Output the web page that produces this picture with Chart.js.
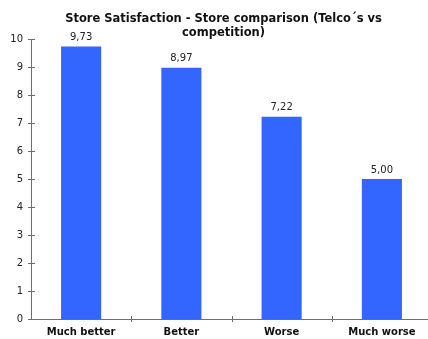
<!DOCTYPE html>
<html>
<head>
<meta charset="utf-8">
<script src="https://cdn.jsdelivr.net/npm/chart.js@4"></script>
<style>
  html, body { margin: 0; padding: 0; background: #fff; overflow: hidden; }
  .box { width: 432px; height: 339px; }
</style>
</head>
<body>
<div class="box"><canvas id="chart"></canvas></div>
<script>
const categories = ['Much better', 'Better', 'Worse', 'Much worse'];
const scores = [9.73, 8.97, 7.22, 5.00];
const yTicks = [0, 1, 2, 3, 4, 5, 6, 7, 8, 9, 10];
const titleLines = ['Store Satisfaction - Store comparison (Telco´s vs', 'competition)'];

const FONT = "'DejaVu Sans', Verdana, sans-serif";
const AXIS = '#6e6e6e';

// title, axis lines with crossing ticks, and the value over each bar
const decorations = {
    id: 'decorations',
    afterDatasetsDraw(chart) {
        const c = chart.ctx;
        const x = chart.scales.x;
        const y = chart.scales.y;
        const area = chart.chartArea;
        c.save();

        c.fillStyle = '#111';
        c.font = 'bold 11.5px ' + FONT;
        c.textAlign = 'center';
        c.textBaseline = 'alphabetic';
        titleLines.forEach((line, i) => c.fillText(line, 223.5, 21.5 + i * 14));

        c.strokeStyle = AXIS;
        c.lineWidth = 1;
        c.beginPath();
        c.moveTo(area.left + 0.5, area.top);
        c.lineTo(area.left + 0.5, area.bottom);
        c.moveTo(area.left, area.bottom + 0.5);
        c.lineTo(chart.width, area.bottom + 0.5);
        yTicks.forEach(v => {
            const py = Math.round(y.getPixelForValue(v)) + 0.5;
            c.moveTo(area.left - 3, py);
            c.lineTo(area.left + 4, py);
        });
        for (let i = 1; i < categories.length; i++) {
            const px = Math.round((x.getPixelForValue(i - 1) + x.getPixelForValue(i)) / 2) + 0.5;
            c.moveTo(px, area.bottom - 3);
            c.lineTo(px, area.bottom + 3);
        }
        c.stroke();

        c.fillStyle = '#222';
        c.font = '10px ' + FONT;
        c.textBaseline = 'bottom';
        chart.getDatasetMeta(0).data.forEach((bar, i) => {
            c.fillText(scores[i].toFixed(2).replace('.', ','), bar.x, bar.y - 4);
        });
        c.restore();
    }
};

new Chart(document.getElementById('chart'), {
    type: 'bar',
    data: {
        labels: categories,
        datasets: [{
            data: scores,
            backgroundColor: '#3366ff',
            barPercentage: 0.4,
            categoryPercentage: 1
        }]
    },
    options: {
        responsive: true,
        maintainAspectRatio: false,
        animation: false,
        layout: { padding: { left: 0, right: 0, top: 39, bottom: 0 } },
        plugins: {
            legend: { display: false },
            tooltip: { enabled: false },
            title: { display: false }
        },
        scales: {
            x: {
                afterFit: s => { s.height = 20; },
                grid: { display: false, drawTicks: false },
                border: { display: false },
                ticks: {
                    color: '#111',
                    padding: 7,
                    font: { family: FONT, size: 10, weight: 'bold' }
                }
            },
            y: {
                min: 0,
                max: 10,
                afterFit: s => { s.width = 31; },
                grid: { display: false, drawTicks: false },
                border: { display: false },
                ticks: {
                    stepSize: 1,
                    color: '#222',
                    padding: 8,
                    font: { family: FONT, size: 10 }
                }
            }
        }
    },
    plugins: [decorations]
});
</script>
</body>
</html>
